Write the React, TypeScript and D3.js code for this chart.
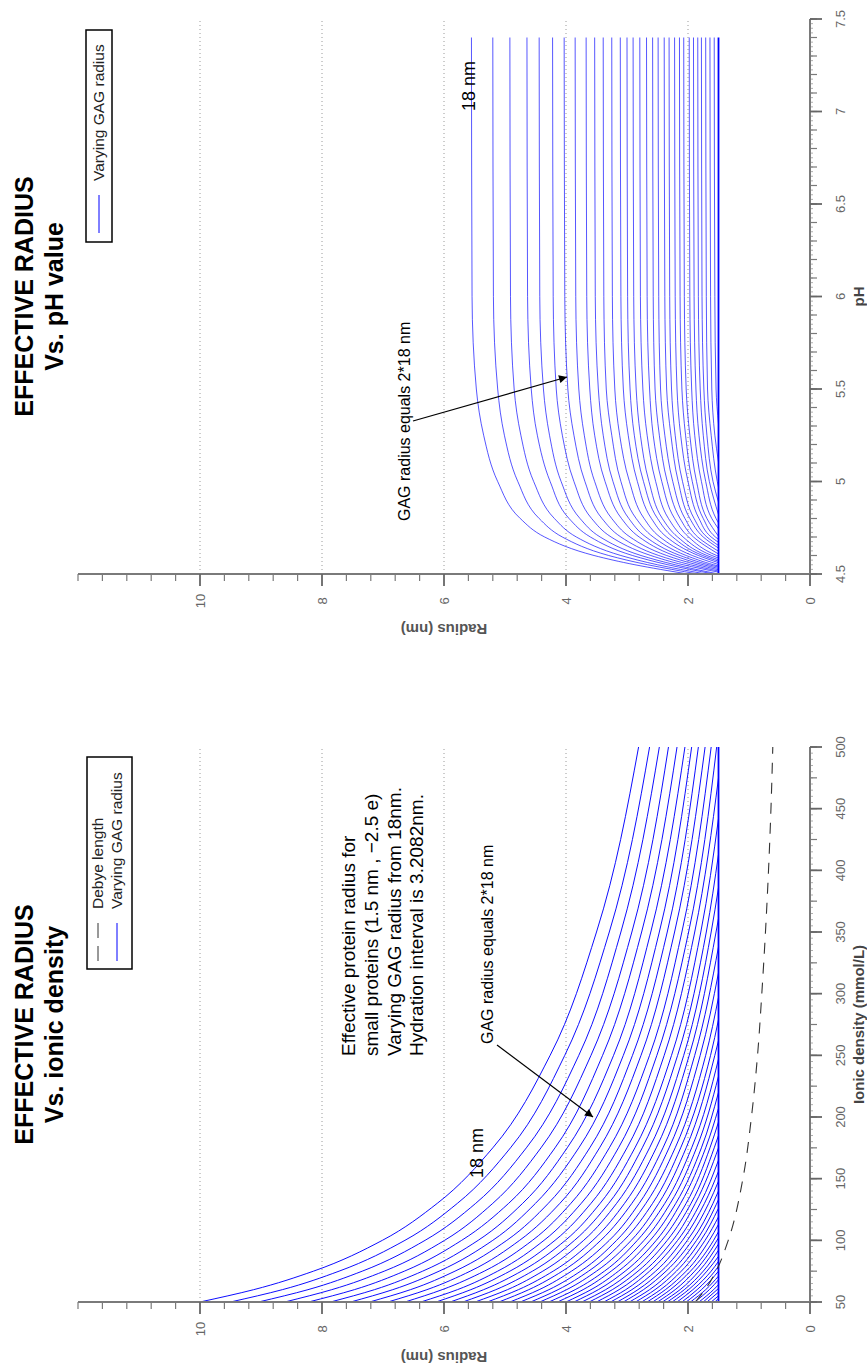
import React from 'react';
import * as d3 from 'd3';

const W = 867;
const H = 1366;
const FONT = 'Liberation Sans, Arial, Helvetica, sans-serif';

const PROTEIN_RADIUS = 1.5;
const radiusMajorTicks = [0, 2, 4, 6, 8, 10];
const gridRadii = [2, 4, 6, 8, 10];
const ionicMajorTicks = [50, 100, 150, 200, 250, 300, 350, 400, 450, 500];
const phMajorTicks = [4.5, 5, 5.5, 6, 6.5, 7, 7.5];

// [ionic density (mmol/L), effective radius (nm)] until each curve reaches the protein radius
const ionicCurves: number[][][] = [
  [[50,10.00],[60,9.12],[75,8.14],[100,7.01],[130,6.11],[175,5.20],[250,4.26],[350,3.50],[500,2.81]],
  [[50,9.50],[60,8.65],[75,7.72],[100,6.64],[130,5.78],[175,4.91],[250,4.02],[350,3.29],[500,2.63]],
  [[50,9.04],[60,8.23],[75,7.34],[100,6.31],[130,5.48],[175,4.65],[250,3.79],[350,3.10],[500,2.47]],
  [[50,8.61],[60,7.84],[75,6.98],[100,5.99],[130,5.20],[175,4.41],[250,3.59],[350,2.92],[500,2.32]],
  [[50,8.22],[60,7.47],[75,6.65],[100,5.71],[130,4.94],[175,4.18],[250,3.40],[350,2.76],[500,2.18]],
  [[50,7.86],[60,7.14],[75,6.35],[100,5.44],[130,4.71],[175,3.98],[250,3.22],[350,2.61],[500,2.05]],
  [[50,7.53],[60,6.84],[75,6.08],[100,5.20],[130,4.50],[175,3.79],[250,3.06],[350,2.47],[500,1.94]],
  [[50,7.22],[60,6.55],[75,5.82],[100,4.97],[130,4.29],[175,3.61],[250,2.91],[350,2.34],[500,1.83]],
  [[50,6.92],[60,6.28],[75,5.57],[100,4.76],[130,4.10],[175,3.45],[250,2.77],[350,2.22],[500,1.72]],
  [[50,6.64],[60,6.03],[75,5.34],[100,4.55],[130,3.92],[175,3.29],[250,2.63],[350,2.10],[500,1.62]],
  [[50,6.38],[60,5.78],[75,5.12],[100,4.36],[130,3.75],[175,3.14],[250,2.51],[350,1.99],[500,1.53]],
  [[50,6.13],[60,5.56],[75,4.92],[100,4.18],[130,3.59],[175,3.00],[250,2.39],[350,1.89],[475,1.5]],
  [[50,5.90],[60,5.35],[75,4.73],[100,4.01],[130,3.44],[175,2.87],[250,2.27],[350,1.79],[442,1.5]],
  [[50,5.69],[60,5.15],[75,4.55],[100,3.86],[130,3.30],[175,2.75],[250,2.17],[350,1.70],[413,1.5]],
  [[50,5.49],[60,4.96],[75,4.38],[100,3.71],[130,3.17],[175,2.63],[250,2.07],[350,1.62],[386,1.5]],
  [[50,5.29],[60,4.78],[75,4.21],[100,3.56],[130,3.04],[175,2.52],[250,1.98],[350,1.54],[361,1.5]],
  [[50,5.10],[60,4.61],[75,4.06],[100,3.43],[130,2.92],[175,2.41],[250,1.89],[338,1.5]],
  [[50,4.92],[60,4.44],[75,3.91],[100,3.29],[130,2.80],[175,2.31],[250,1.80],[317,1.5]],
  [[50,4.75],[60,4.28],[75,3.76],[100,3.17],[130,2.69],[175,2.21],[250,1.71],[297,1.5]],
  [[50,4.58],[60,4.13],[75,3.63],[100,3.05],[130,2.58],[175,2.12],[250,1.63],[279,1.5]],
  [[50,4.43],[60,3.99],[75,3.50],[100,2.93],[130,2.48],[175,2.03],[250,1.56],[262,1.5]],
  [[50,4.28],[60,3.85],[75,3.37],[100,2.83],[130,2.38],[175,1.94],[247,1.5]],
  [[50,4.14],[60,3.72],[75,3.26],[100,2.72],[130,2.29],[175,1.86],[233,1.5]],
  [[50,4.00],[60,3.59],[75,3.14],[100,2.62],[130,2.20],[175,1.78],[220,1.5]],
  [[50,3.87],[60,3.47],[75,3.03],[100,2.52],[130,2.12],[175,1.71],[207,1.5]],
  [[50,3.74],[60,3.35],[75,2.92],[100,2.43],[130,2.03],[175,1.64],[196,1.5]],
  [[50,3.62],[60,3.24],[75,2.82],[100,2.34],[130,1.95],[175,1.57],[185,1.5]],
  [[50,3.50],[60,3.13],[75,2.72],[100,2.25],[130,1.88],[175,1.5]],
  [[50,3.38],[60,3.02],[75,2.63],[100,2.17],[130,1.80],[165,1.5]],
  [[50,3.27],[60,2.92],[75,2.53],[100,2.09],[130,1.73],[156,1.5]],
  [[50,3.16],[60,2.82],[75,2.44],[100,2.01],[130,1.66],[148,1.5]],
  [[50,3.06],[60,2.73],[75,2.36],[100,1.93],[130,1.59],[140,1.5]],
  [[50,2.96],[60,2.63],[75,2.27],[100,1.86],[133,1.5]],
  [[50,2.86],[60,2.54],[75,2.19],[100,1.79],[126,1.5]],
  [[50,2.76],[60,2.45],[75,2.11],[100,1.72],[119,1.5]],
  [[50,2.67],[60,2.37],[75,2.03],[100,1.65],[113,1.5]],
  [[50,2.58],[60,2.29],[75,1.96],[100,1.58],[107,1.5]],
  [[50,2.50],[60,2.21],[75,1.89],[102,1.5]],
  [[50,2.42],[60,2.13],[75,1.82],[97,1.5]],
  [[50,2.34],[60,2.06],[75,1.75],[92,1.5]],
  [[50,2.26],[60,1.99],[75,1.69],[87,1.5]],
  [[50,2.18],[60,1.92],[75,1.62],[83,1.5]],
  [[50,2.10],[60,1.85],[75,1.56],[79,1.5]],
  [[50,2.03],[60,1.78],[75,1.5]],
  [[50,1.96],[60,1.71],[71,1.5]],
  [[50,1.89],[60,1.65],[68,1.5]],
  [[50,1.82],[60,1.58],[64,1.5]],
  [[50,1.75],[61,1.5]],
  [[50,1.69],[58,1.5]],
  [[50,1.62],[55,1.5]],
  [[50,1.56],[53,1.5]],
];

// [pH, effective radius (nm)]
const phCurves: number[][][] = [
  [[4.5,2.00],[4.55,2.87],[4.6,3.54],[4.7,4.35],[4.8,4.75],[5.0,5.12],[5.25,5.35],[5.5,5.47],[6.0,5.54],[7.4,5.55]],
  [[4.5,1.84],[4.55,2.66],[4.6,3.30],[4.7,4.06],[4.8,4.44],[5.0,4.79],[5.25,5.01],[5.5,5.12],[6.0,5.19],[7.4,5.20]],
  [[4.5,1.71],[4.55,2.50],[4.6,3.10],[4.7,3.83],[4.8,4.19],[5.0,4.53],[5.25,4.74],[5.5,4.85],[6.0,4.91],[7.4,4.92]],
  [[4.5,1.58],[4.55,2.33],[4.6,2.91],[4.7,3.60],[4.8,3.95],[5.0,4.26],[5.25,4.47],[5.5,4.57],[6.0,4.63],[7.4,4.64]],
  [[4.5,1.5],[4.55,2.21],[4.6,2.77],[4.7,3.44],[4.8,3.77],[5.0,4.08],[5.25,4.27],[5.5,4.37],[6.0,4.43],[7.4,4.44]],
  [[4.51,1.5],[4.55,2.08],[4.6,2.61],[4.7,3.26],[4.8,3.58],[5.0,3.87],[5.25,4.06],[5.5,4.16],[6.0,4.21],[7.4,4.22]],
  [[4.516,1.5],[4.55,1.96],[4.6,2.48],[4.7,3.10],[4.8,3.41],[5.0,3.69],[5.25,3.87],[5.5,3.97],[6.0,4.02],[7.4,4.03]],
  [[4.523,1.5],[4.55,1.85],[4.6,2.35],[4.7,2.95],[4.8,3.25],[5.0,3.53],[5.25,3.70],[5.5,3.79],[6.0,3.84],[7.4,3.85]],
  [[4.53,1.5],[4.55,1.75],[4.6,2.23],[4.7,2.80],[4.8,3.09],[5.0,3.36],[5.25,3.53],[5.5,3.61],[6.0,3.66],[7.4,3.67]],
  [[4.537,1.5],[4.55,1.66],[4.6,2.13],[4.7,2.69],[4.8,2.97],[5.0,3.23],[5.25,3.39],[5.5,3.47],[6.0,3.52],[7.4,3.53]],
  [[4.543,1.5],[4.55,1.58],[4.6,2.03],[4.7,2.57],[4.8,2.85],[5.0,3.10],[5.25,3.25],[5.5,3.34],[6.0,3.38],[7.4,3.39]],
  [[4.551,1.5],[4.6,1.93],[4.7,2.46],[4.8,2.72],[5.0,2.96],[5.25,3.12],[5.5,3.20],[6.0,3.24],[7.4,3.25]],
  [[4.561,1.5],[4.6,1.83],[4.7,2.35],[4.8,2.60],[5.0,2.83],[5.25,2.98],[5.5,3.06],[6.0,3.10],[7.4,3.11]],
  [[4.569,1.5],[4.6,1.76],[4.7,2.25],[4.8,2.50],[5.0,2.73],[5.25,2.88],[5.5,2.95],[6.0,2.99],[7.4,3.00]],
  [[4.577,1.5],[4.6,1.69],[4.7,2.17],[4.8,2.42],[5.0,2.64],[5.25,2.78],[5.5,2.85],[6.0,2.89],[7.4,2.90]],
  [[4.586,1.5],[4.6,1.61],[4.7,2.08],[4.8,2.32],[5.0,2.53],[5.25,2.67],[5.5,2.74],[6.0,2.78],[7.4,2.79]],
  [[4.596,1.5],[4.6,1.53],[4.7,1.99],[4.8,2.22],[5.0,2.43],[5.25,2.57],[5.5,2.63],[6.0,2.67],[7.4,2.68]],
  [[4.608,1.5],[4.7,1.91],[4.8,2.13],[5.0,2.34],[5.25,2.47],[5.5,2.54],[6.0,2.57],[7.4,2.58]],
  [[4.623,1.5],[4.7,1.84],[4.8,2.05],[5.0,2.25],[5.25,2.38],[5.5,2.45],[6.0,2.48],[7.4,2.49]],
  [[4.64,1.5],[4.7,1.75],[4.8,1.97],[5.0,2.16],[5.25,2.28],[5.5,2.35],[6.0,2.38],[7.4,2.39]],
  [[4.654,1.5],[4.7,1.69],[4.8,1.90],[5.0,2.09],[5.25,2.21],[5.5,2.27],[6.0,2.30],[7.4,2.31]],
  [[4.671,1.5],[4.7,1.62],[4.8,1.82],[5.0,2.00],[5.25,2.12],[5.5,2.18],[6.0,2.21],[7.4,2.22]],
  [[4.687,1.5],[4.7,1.55],[4.8,1.75],[5.0,1.93],[5.25,2.04],[5.5,2.10],[6.0,2.13],[7.4,2.14]],
  [[4.704,1.5],[4.8,1.69],[5.0,1.86],[5.25,1.97],[5.5,2.03],[6.0,2.06],[7.4,2.07]],
  [[4.744,1.5],[4.8,1.61],[5.0,1.78],[5.25,1.89],[5.5,1.94],[6.0,1.97],[7.4,1.98]],
  [[4.776,1.5],[4.8,1.54],[5.0,1.71],[5.25,1.82],[5.5,1.87],[6.0,1.90],[7.4,1.91]],
  [[4.821,1.5],[5.0,1.65],[5.25,1.75],[5.5,1.80],[6.0,1.83],[7.4,1.84]],
  [[4.888,1.5],[5.0,1.59],[5.25,1.69],[5.5,1.74],[6.0,1.77],[7.4,1.78]],
  [[4.968,1.5],[5.0,1.52],[5.25,1.62],[5.5,1.68],[6.0,1.70],[7.4,1.71]],
  [[5.104,1.5],[5.25,1.56],[5.5,1.61],[6.0,1.63],[7.4,1.64]],
  [[5.31,1.5],[5.5,1.54],[6.0,1.56],[7.4,1.57]],
];

// [ionic density, Debye length (nm)]
const debyeLength: number[][] = [
  [50,1.88],[60,1.72],[75,1.54],[100,1.34],[150,1.10],[200,0.96],[250,0.86],
  [300,0.79],[350,0.73],[400,0.68],[450,0.64],[500,0.61],
];

const ionicRange = [50, 500];
const phRange = [4.5, 7.4];

const rScale = d3.scaleLinear().domain([0, 12]).range([810, 78]);
const ionicScale = d3.scaleLinear().domain([50, 500]).range([1302, 747]);
const phScale = d3.scaleLinear().domain([4.5, 7.5]).range([574, 19]);

const BLUE = '#0000ff';

function VText(props: any) {
  const { x, y, rot = -90, anchor = 'middle', size = 12, weight = 'normal', fill = '#000', children } = props;
  return (
    <text
      transform={`translate(${x},${y}) rotate(${rot})`}
      textAnchor={anchor}
      fontSize={size}
      fontWeight={weight}
      fill={fill}
      fontFamily={FONT}
    >
      {children}
    </text>
  );
}

function Panel(props: any) {
  const { yScale, curves, curveOpacity, yMajor, yMinorStep, yMicroStep, yDomain, curveEnd, xTitle, title2, debye, legendItems, legendBox, ann, label18, arrow } = props;
  const axisY = yScale(yDomain[0]);
  const topY = yScale(yDomain[1]);
  const line = d3
    .line<number[]>()
    .x((d) => rScale(d[1]))
    .y((d) => yScale(d[0]))
    .curve(d3.curveMonotoneY);
  const rMinor = d3.range(0, 12.0001, 0.4).filter((v) => Math.abs(v / 2 - Math.round(v / 2)) > 0.01 || v > 11);
  const yMinor = d3.range(yDomain[0], yDomain[1] + 1e-6, yMinorStep);
  const yMicro = d3.range(yDomain[0], yDomain[1] + 1e-6, yMicroStep);
  const centerY = (axisY + topY) / 2;
  return (
    <g>
      {gridRadii.map((r) => (
        <line key={'g' + r} x1={rScale(r)} x2={rScale(r)} y1={axisY} y2={topY} stroke="#9a9a9a" strokeWidth={1} strokeDasharray="1,3" />
      ))}
      {curves.map((c: number[][], i: number) => (
        <path key={'c' + i} d={line(c) || ''} fill="none" stroke={BLUE} strokeOpacity={curveOpacity} strokeWidth={0.95} />
      ))}
      <line x1={rScale(PROTEIN_RADIUS)} x2={rScale(PROTEIN_RADIUS)} y1={yScale(curveEnd[0])} y2={yScale(curveEnd[1])} stroke={BLUE} strokeWidth={1.8} />
      {debye && (
        <path d={line(debye) || ''} fill="none" stroke="#333" strokeWidth={1.1} strokeDasharray="11,9" />
      )}
      {/* radius axis */}
      <line x1={rScale(0)} x2={rScale(12)} y1={axisY} y2={axisY} stroke="#7a7a7a" strokeWidth={2} />
      {rMinor.map((r) => (
        <line key={'rm' + r} x1={rScale(r)} x2={rScale(r)} y1={axisY} y2={axisY + 7} stroke="#7a7a7a" strokeWidth={1.2} />
      ))}
      {radiusMajorTicks.map((r) => (
        <g key={'rM' + r}>
          <line x1={rScale(r)} x2={rScale(r)} y1={axisY} y2={axisY + 12} stroke="#666" strokeWidth={1.8} />
          <VText x={rScale(r) + 5} y={axisY + 27} size={13} fill="#666">{r}</VText>
        </g>
      ))}
      <VText x={rScale(6)} y={axisY + 50} rot={180} size={15} weight="bold" fill="#555">Radius (nm)</VText>
      {/* x axis (vertical on screen) */}
      {yMicro.map((v: number) => (
        <line key={'yu' + v} x1={rScale(0)} x2={rScale(0) + 3} y1={yScale(v)} y2={yScale(v)} stroke="#9a9a9a" strokeWidth={0.8} />
      ))}
      <line x1={rScale(0)} x2={rScale(0)} y1={axisY} y2={topY} stroke="#7a7a7a" strokeWidth={2} />
      {yMinor.map((v: number) => (
        <line key={'ym' + v} x1={rScale(0)} x2={rScale(0) + 7} y1={yScale(v)} y2={yScale(v)} stroke="#7a7a7a" strokeWidth={1.2} />
      ))}
      {yMajor.map((v: number) => (
        <g key={'yM' + v}>
          <line x1={rScale(0)} x2={rScale(0) + 12} y1={yScale(v)} y2={yScale(v)} stroke="#666" strokeWidth={1.8} />
          <VText x={rScale(0) + 35} y={yScale(v)} size={13} fill="#666">{String(v)}</VText>
        </g>
      ))}
      <VText x={864} y={centerY} size={15} weight="bold" fill="#444">{xTitle}</VText>
      {/* title */}
      <VText x={33} y={centerY} size={25} weight="bold">EFFECTIVE RADIUS</VText>
      <VText x={63} y={centerY} size={25} weight="bold">{title2}</VText>
      {/* legend */}
      <rect x={legendBox[0]} y={legendBox[1]} width={legendBox[2]} height={legendBox[3]} fill="#fff" stroke="#000" strokeWidth={1.5} />
      {legendItems.map((it: any, i: number) => (
        <g key={'li' + i}>
          <line x1={it.x} x2={it.x} y1={it.y0} y2={it.y0 - 38} stroke={it.color} strokeWidth={1} strokeDasharray={it.dash || undefined} />
          <VText x={it.x + 5} y={it.y0 - 52} anchor="start" size={15.5} fill="#222">{it.label}</VText>
        </g>
      ))}
      {/* annotations */}
      {ann.map((a: any, i: number) => (
        <VText key={'an' + i} x={a.x} y={a.y} anchor="start" size={a.size}>{a.text}</VText>
      ))}
      <VText x={label18[0]} y={label18[1]} anchor="start" size={18}>18 nm</VText>
      <line x1={arrow[0]} y1={arrow[1]} x2={arrow[2]} y2={arrow[3]} stroke="#000" strokeWidth={1.2} markerEnd="url(#arrowHead)" />
    </g>
  );
}

export default function App() {
  const ionicAnn = [
    { x: 355, y: 1056, size: 19, text: 'Effective protein radius for' },
    { x: 378, y: 1056, size: 19, text: 'small proteins (1.5 nm , \u22122.5 e)' },
    { x: 401, y: 1056, size: 19, text: 'Varying GAG radius from 18nm.' },
    { x: 423, y: 1056, size: 19, text: 'Hydration interval is 3.2082nm.' },
    { x: 493, y: 1044, size: 16, text: 'GAG radius equals 2*18 nm' },
  ];
  const phAnn = [{ x: 410, y: 521, size: 16, text: 'GAG radius equals 2*18 nm' }];
  return (
    <svg width={W} height={H} style={{ position: 'absolute', left: 0, top: 0, background: '#fff' }}>
      <defs>
        <marker id="arrowHead" viewBox="0 0 10 10" refX="10" refY="5" markerWidth="11" markerHeight="8" markerUnits="userSpaceOnUse" orient="auto">
          <path d="M0,0 L10,5 L0,10 z" fill="#000" />
        </marker>
      </defs>
      <rect x={0} y={0} width={W} height={H} fill="#fff" />
      <Panel
        yScale={phScale}
        curves={phCurves}
        curveOpacity={0.7}
        yMajor={phMajorTicks}
        yMinorStep={0.1}
        yMicroStep={0.025}
        yDomain={[4.5, 7.5]}
        curveEnd={phRange}
        xTitle="pH"
        title2="Vs. pH value"
        debye={null}
        legendBox={[86, 30, 26, 212]}
        legendItems={[{ x: 99, y0: 233, color: BLUE, label: 'Varying GAG radius' }]}
        ann={phAnn}
        label18={[475, 111]}
        arrow={[413, 421, 567, 377]}
      />
      <Panel
        yScale={ionicScale}
        curves={ionicCurves}
        curveOpacity={1}
        yMajor={ionicMajorTicks}
        yMinorStep={25}
        yMicroStep={5}
        yDomain={[50, 500]}
        curveEnd={ionicRange}
        xTitle="Ionic density (mmol/L)"
        title2="Vs. ionic density"
        debye={debyeLength}
        legendBox={[87, 757, 45, 212]}
        legendItems={[
          { x: 98, y0: 961, color: '#333', dash: '15,8', label: 'Debye length' },
          { x: 117, y0: 961, color: BLUE, label: 'Varying GAG radius' },
        ]}
        ann={ionicAnn}
        label18={[483, 1178]}
        arrow={[497, 1045, 593, 1117]}
      />
    </svg>
  );
}
